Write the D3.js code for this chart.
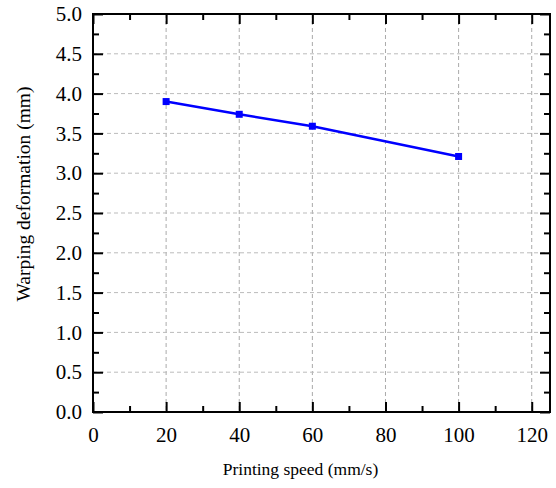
<!DOCTYPE html>
<html><head><meta charset="utf-8">
<script src="https://cdn.jsdelivr.net/npm/d3@7"></script>
<style>body{margin:0;background:#fff} svg text{font-family:"Liberation Serif","Times New Roman",serif !important;}</style>
</head><body>
<svg id="c" width="556" height="488"></svg>
<script>
const speeds = [20, 40, 60, 100];
const warping = [3.90, 3.74, 3.59, 3.21];
const xTicks = [0, 20, 40, 60, 80, 100, 120];
const yTicks = [0, 0.5, 1.0, 1.5, 2.0, 2.5, 3.0, 3.5, 4.0, 4.5, 5.0];
const xTitle = "Printing speed (mm/s)";
const yTitle = "Warping deformation (mm)";

const svg = d3.select("#c");
const m = {l: 93, r: 550, t: 14, b: 412};
const x = d3.scaleLinear().domain([0, 125]).range([m.l, m.r]);
const y = d3.scaleLinear().domain([0, 5]).range([m.b, m.t]);

// grid
svg.append("g").selectAll("line").data(xTicks.filter(d => d > 0)).join("line")
  .attr("x1", d => x(d)).attr("x2", d => x(d)).attr("y1", m.t).attr("y2", m.b)
  .attr("stroke", "#aaa").attr("stroke-width", 1).attr("stroke-dasharray", "4,3");
svg.append("g").selectAll("line").data(yTicks.filter(d => d > 0 && d < 5)).join("line")
  .attr("x1", m.l).attr("x2", m.r).attr("y1", d => y(d)).attr("y2", d => y(d))
  .attr("stroke", "#bbb").attr("stroke-width", 1).attr("stroke-dasharray", "4,3");

const minorX = d3.range(10, 125, 20);
const minorY = d3.range(0.25, 5, 0.5);

function axis(gen, transform, major, minor, fmt, labels, pad) {
  const g = svg.append("g").attr("transform", transform);
  g.call(gen.tickValues(major).tickSize(-10).tickPadding(pad).tickFormat(labels ? fmt : ""));
  g.selectAll(".tick line").attr("stroke-width", 2);
  g.select(".domain").remove();
  g.selectAll("text").attr("font-size", 21).attr("fill", "#000");
  const g2 = svg.append("g").attr("transform", transform);
  g2.call(gen.tickValues(minor).tickSize(-6).tickFormat(""));
  g2.select(".domain").remove();
  g2.selectAll(".tick line").attr("stroke-width", 2);
  return g;
}
axis(d3.axisBottom(x), `translate(0,${m.b})`, xTicks, minorX, d3.format("d"), true, 15);
axis(d3.axisTop(x), `translate(0,${m.t})`, xTicks, minorX, d3.format("d"), false, 8);
axis(d3.axisLeft(y), `translate(${m.l},0)`, yTicks, minorY, d3.format(".1f"), true, 11);
axis(d3.axisRight(y), `translate(${m.r},0)`, yTicks, minorY, d3.format(".1f"), false, 8);

svg.append("rect").attr("x", m.l).attr("y", m.t).attr("width", m.r - m.l).attr("height", m.b - m.t)
  .attr("fill", "none").attr("stroke", "#000").attr("stroke-width", 2);

const data = speeds.map((s, i) => ({s, w: warping[i]}));
svg.append("path").datum(data)
  .attr("d", d3.line().x(d => x(d.s)).y(d => y(d.w)))
  .attr("fill", "none").attr("stroke", "#0000ff").attr("stroke-width", 2.5);
svg.append("g").selectAll("rect").data(data).join("rect")
  .attr("x", d => x(d.s) - 3.5).attr("y", d => y(d.w) - 3.5).attr("width", 7).attr("height", 7)
  .attr("fill", "#0000ff");

svg.append("text").attr("x", 300.5).attr("y", 475).attr("text-anchor", "middle")
  .attr("font-size", 17.5).text(xTitle);
svg.append("text").attr("transform", `translate(30,194) rotate(-90)`).attr("text-anchor", "middle")
  .attr("font-size", 19.5).text(yTitle);
</script>
</body></html>
